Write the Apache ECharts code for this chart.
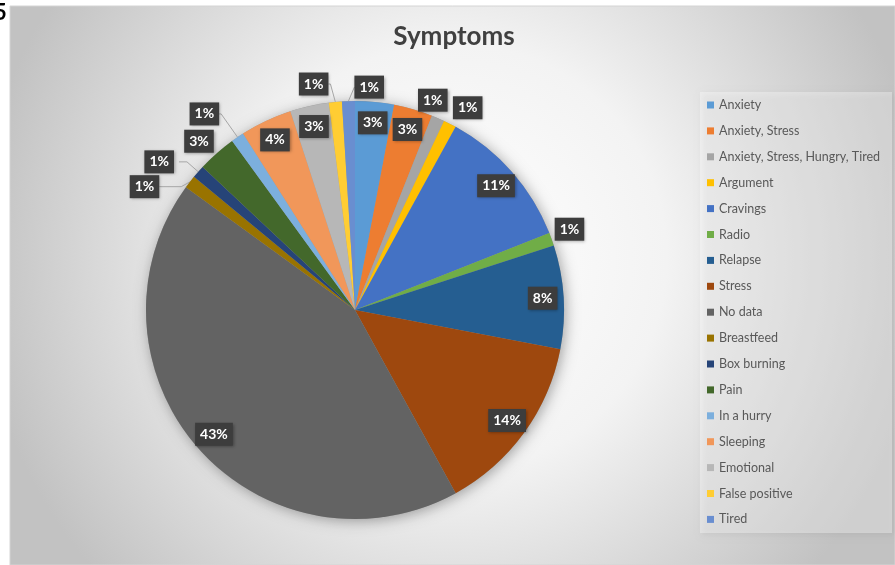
<!DOCTYPE html>
<html>
<head>
<meta charset="utf-8">
<title>Symptoms</title>
<script src="https://cdn.jsdelivr.net/npm/echarts@6/dist/echarts.min.js"></script>
<style>
  html, body { margin: 0; padding: 0; background: #ffffff; }
  #chart { width: 895px; height: 565px; }
</style>
</head>
<body>
<div id="chart"></div>
<script>
// Reported symptoms, share of all entries (percent)
const categories = [
  'Anxiety', 'Anxiety, Stress', 'Anxiety, Stress, Hungry, Tired', 'Argument',
  'Cravings', 'Radio', 'Relapse', 'Stress', 'No data', 'Breastfeed',
  'Box burning', 'Pain', 'In a hurry', 'Sleeping', 'Emotional',
  'False positive', 'Tired'
];
const shares = [3, 3, 1, 1, 11, 1, 8, 14, 43, 1, 1, 3, 1, 4, 3, 1, 1];
const sliceColors = [
  '#5B9BD5', '#ED7D31', '#A5A5A5', '#FFC000', '#4472C4', '#70AD47',
  '#255E91', '#9E480E', '#636363', '#997300', '#264478', '#43682B',
  '#7CAFDD', '#F1975A', '#B7B7B7', '#FFCD33', '#698ED0'
];
// wedges wide enough to carry their label inside
const labelledInside = ['Anxiety', 'Anxiety, Stress', 'Cravings', 'Relapse', 'Stress',
  'No data', 'Sleeping', 'Emotional'];

// leader-line geometry for the call-outs: [radial length, horizontal length, drawn]
const calloutLine = {
  'Anxiety, Stress, Hungry, Tired': [0, 0, false],
  'Argument': [0, 0, false],
  'Radio': [0, 0, false],
  'Breastfeed': [2, 22, true],
  'Box burning': [15, 8, true],
  'Pain': [0, 0, false],
  'In a hurry': [22, 2, true],
  'False positive': [20, 2, true],
  'Tired': [14, 0, true]
};
// small shifts of some call-outs so they clear their neighbours
const calloutShift = {
  'Anxiety, Stress, Hungry, Tired': [-25, -18],
  'Argument': [-2, -16],
  'Radio': [-2, -10],
  'Breastfeed': [-2, 6],
  'Pain': [2, -12],
  'In a hurry': [1, -5],
  'False positive': [2, 2],
  'Tired': [41, 0]
};

const FONT = 'Lato, "Open Sans", "DejaVu Sans", sans-serif';
const CENTER = [355, 310];
const R = 209;

const boxLabel = {
  formatter: '{c}%',
  color: '#ffffff',
  fontFamily: FONT,
  fontWeight: 'bold',
  fontSize: 14,
  lineHeight: 14,
  backgroundColor: '#3d3d3d',
  padding: [5, 5, 4, 5],
  shadowColor: 'rgba(0,0,0,0.35)',
  shadowBlur: 3,
  shadowOffsetX: 1,
  shadowOffsetY: 1
};

const chart = echarts.init(document.getElementById('chart'), null, { renderer: 'canvas' });

const mainData = categories.map((name, i) => {
  const inside = labelledInside.includes(name);
  const line = calloutLine[name] || [10, 8, true];
  return {
    name,
    value: shares[i],
    itemStyle: { color: sliceColors[i] },
    label: { show: !inside },
    labelLine: { show: !inside && line[2], length: line[0], length2: line[1] }
  };
});

const labelRingData = categories.map((name, i) => ({
  name,
  value: shares[i],
  label: { show: labelledInside.includes(name) }
}));

const option = {
  backgroundColor: '#ffffff',
  animation: false,
  graphic: {
    elements: [
      {
        type: 'rect', z: -10, silent: true,
        shape: { x: 10, y: 6, width: 885, height: 559 },
        style: {
          fill: {
            type: 'radial', x: 0.5, y: 0.45, r: 0.85,
            colorStops: [
              { offset: 0, color: '#ffffff' },
              { offset: 0.45, color: '#f3f3f3' },
              { offset: 1, color: '#c2c2c2' }
            ]
          },
          stroke: '#d4d4d4', lineWidth: 1
        }
      },
      {
        type: 'rect', z: -9, silent: true,
        shape: { x: 700, y: 92, width: 192, height: 441 },
        style: {
          fill: 'rgba(255,255,255,0.35)',
          shadowColor: 'rgba(0,0,0,0.18)', shadowBlur: 6, shadowOffsetX: 2, shadowOffsetY: 2
        }
      },
      {
        type: 'text', z: -8, silent: true,
        x: -6, y: 2,
        style: { text: '5', fill: '#000000', font: 'bold 22px ' + FONT }
      }
    ]
  },
  title: {
    text: 'Symptoms',
    left: 449,
    textAlign: 'center',
    top: 19,
    textStyle: { fontFamily: FONT, fontWeight: 'bold', fontSize: 26, color: '#404040' }
  },
  legend: {
    orient: 'vertical',
    left: 702,
    top: 93,
    icon: 'rect',
    itemWidth: 7,
    itemHeight: 7,
    itemGap: 11.9,
    selectedMode: false,
    data: categories,
    textStyle: { fontFamily: FONT, fontSize: 12.5, color: '#595959', lineHeight: 14 }
  },
  series: [
    {
      // wedge shapes with outside call-outs
      type: 'pie',
      name: 'Symptoms',
      z: 3,
      center: CENTER,
      radius: R,
      startAngle: 90,
      clockwise: true,
      avoidLabelOverlap: false,
      emphasis: { disabled: true },
      itemStyle: { borderWidth: 0 },
      label: Object.assign({}, boxLabel, { position: 'outside' }),
      labelLine: { show: true, length: 10, length2: 8, lineStyle: { color: '#a6a6a6', width: 1 } },
      labelLayout: function (params) {
        const shift = calloutShift[categories[params.dataIndex]];
        if (!shift) return {};
        const r = params.labelRect;
        return {
          x: r.x + r.width / 2 + shift[0],
          y: r.y + r.height / 2 + shift[1],
          align: 'center',
          verticalAlign: 'middle'
        };
      },
      data: mainData
    },
    {
      // soft drop shadow under the whole pie
      type: 'pie',
      name: 'shadow',
      z: 1,
      silent: true,
      center: CENTER,
      radius: R,
      label: { show: false },
      labelLine: { show: false },
      emphasis: { disabled: true },
      data: [{
        value: 1, name: '',
        itemStyle: { color: '#9a9a9a', shadowBlur: 14, shadowColor: 'rgba(0,0,0,0.35)', shadowOffsetX: 2, shadowOffsetY: 2 }
      }]
    },
    {
      // transparent outer ring used to place the in-wedge labels near the rim
      type: 'pie',
      name: 'labels',
      z: 4,
      silent: true,
      center: CENTER,
      radius: [161, R],
      startAngle: 90,
      clockwise: true,
      emphasis: { disabled: true },
      itemStyle: { color: 'rgba(0,0,0,0)', borderWidth: 0 },
      label: Object.assign({}, boxLabel, { position: 'inside' }),
      labelLine: { show: false },
      data: labelRingData
    }
  ]
};

chart.setOption(option);
</script>
</body>
</html>
